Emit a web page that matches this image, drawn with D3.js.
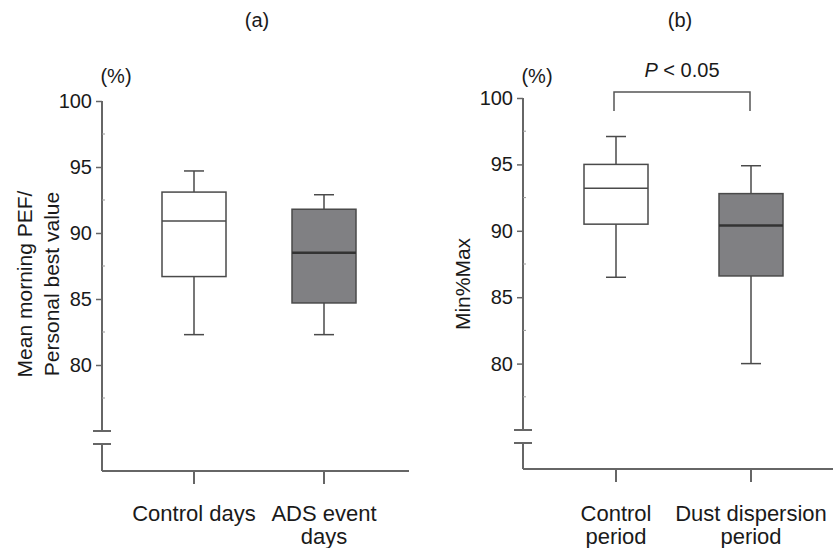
<!DOCTYPE html>
<html>
<head>
<script src="https://d3js.org/d3.v7.min.js"></script>
<style>
  body { margin: 0; background: #fff; }
  svg { display: block; font-family: "Liberation Sans", Arial, sans-serif; }
</style>
</head>
<body>
<div id="chart"></div>
<script>
// ---- data ----
// boxes are [min, q1, median, q3, max]
var categoriesA = ["Control days", "ADS event days"];
var labelLinesA = [["Control days"], ["ADS event", "days"]];
var boxesA = [
  [82.3, 86.7, 90.9, 93.1, 94.7],
  [82.3, 84.7, 88.5, 91.8, 92.9]
];

var categoriesB = ["Control period", "Dust dispersion period"];
var labelLinesB = [["Control", "period"], ["Dust dispersion", "period"]];
var boxesB = [
  [86.5, 90.5, 93.2, 95.0, 97.1],
  [80.0, 86.6, 90.4, 92.8, 94.9]
];

var majorTicks = [100, 95, 90, 85, 80];
var minorTicks = [97.5, 92.5, 87.5, 82.5, 77.5];
var boxFills = ["#ffffff", "#808083"];

var W = 833, H = 548;
var textColor = "#1a1a1a", axisColor = "#666", boxStroke = "#4a4a4a";
var fontStack = "'Liberation Sans', Arial, sans-serif";

var svg = d3.select("#chart").append("svg")
  .attr("width", W).attr("height", H);

function drawPanel(p) {
  var g = svg.append("g");
  var y = d3.scaleLinear().domain([75, 100]).range([p.yBreak, p.yTop]);
  var x = d3.scalePoint().domain(p.cats).range(p.centers);
  var bw = 64;

  // panel title
  g.append("text").attr("x", p.titleX).attr("y", 27)
    .attr("text-anchor", "middle").style("font-size", "20px")
    .attr("fill", textColor).text(p.title);

  // y axis (upper part, above the break)
  var yAxis = g.append("g")
    .attr("transform", "translate(" + p.axisX + ",0)")
    .call(d3.axisLeft(y).tickValues(majorTicks).tickSize(6).tickPadding(4))
    .attr("font-size", 20).attr("font-family", fontStack);
  yAxis.select(".domain").attr("d", "M0," + y(100) + "V" + y(75))
    .attr("stroke", axisColor).attr("stroke-width", 2);
  yAxis.selectAll(".tick line").attr("stroke", axisColor).attr("stroke-width", 1.5);
  yAxis.selectAll(".tick text").attr("fill", textColor);

  // minor ticks inside
  g.selectAll(".minor").data(minorTicks).enter().append("line")
    .attr("x1", p.axisX).attr("x2", p.axisX + 3)
    .attr("y1", function(d) { return y(d); }).attr("y2", function(d) { return y(d); })
    .attr("stroke", "#999").attr("stroke-width", 1);

  // axis break marks
  [p.yBreak, p.yBreak2].forEach(function(yy) {
    g.append("line").attr("x1", p.axisX - 9).attr("x2", p.axisX + 9)
      .attr("y1", yy).attr("y2", yy)
      .attr("stroke", axisColor).attr("stroke-width", 2);
  });
  // lower stub of y axis
  g.append("line").attr("x1", p.axisX).attr("x2", p.axisX)
    .attr("y1", p.yBreak2).attr("y2", p.xAxisY)
    .attr("stroke", axisColor).attr("stroke-width", 2);

  // x axis
  g.append("line").attr("x1", p.axisX).attr("x2", p.xEnd)
    .attr("y1", p.xAxisY).attr("y2", p.xAxisY)
    .attr("stroke", axisColor).attr("stroke-width", 2);
  g.selectAll(".xtick").data(p.cats).enter().append("line")
    .attr("x1", function(d) { return x(d); }).attr("x2", function(d) { return x(d); })
    .attr("y1", p.xAxisY).attr("y2", p.xAxisY + 13)
    .attr("stroke", axisColor).attr("stroke-width", 2);

  // category labels
  p.cats.forEach(function(c, i) {
    var t = g.append("text").attr("text-anchor", "middle")
      .attr("fill", textColor).style("font-size", "22px");
    p.lines[i].forEach(function(line, j) {
      t.append("tspan").attr("x", x(c)).attr("y", p.labelY + j * 23).text(line);
    });
  });

  // (%) unit
  g.append("text").attr("x", p.axisX + 14).attr("y", p.unitY)
    .attr("text-anchor", "middle").attr("fill", textColor)
    .style("font-size", "20px").text("(%)");

  // y axis title
  var yt = g.append("text")
    .attr("transform", "translate(" + p.yTitleX + "," + 284 + ") rotate(-90)")
    .attr("text-anchor", "middle").attr("fill", textColor).style("font-size", "21px");
  p.yTitle.forEach(function(line, j) {
    yt.append("tspan").attr("x", 0).attr("y", j * 27).text(line);
  });

  // boxes
  p.boxes.forEach(function(b, i) {
    var cx = x(p.cats[i]);
    var bg = g.append("g");
    bg.append("line").attr("x1", cx).attr("x2", cx)
      .attr("y1", y(b[4])).attr("y2", y(b[3]))
      .attr("stroke", boxStroke).attr("stroke-width", 1.5);
    bg.append("line").attr("x1", cx).attr("x2", cx)
      .attr("y1", y(b[1])).attr("y2", y(b[0]))
      .attr("stroke", boxStroke).attr("stroke-width", 1.5);
    [b[0], b[4]].forEach(function(v) {
      bg.append("line").attr("x1", cx - 10).attr("x2", cx + 10)
        .attr("y1", y(v)).attr("y2", y(v))
        .attr("stroke", boxStroke).attr("stroke-width", 1.5);
    });
    bg.append("rect").attr("x", cx - bw / 2).attr("width", bw)
      .attr("y", y(b[3])).attr("height", y(b[1]) - y(b[3]))
      .attr("fill", boxFills[i]).attr("stroke", boxStroke).attr("stroke-width", 1.5);
    bg.append("line").attr("x1", cx - bw / 2).attr("x2", cx + bw / 2)
      .attr("y1", y(b[2])).attr("y2", y(b[2]))
      .attr("stroke", i === 1 ? "#333" : boxStroke).attr("stroke-width", i === 1 ? 2.5 : 1.5);
  });

  return { x: x, y: y, g: g };
}

drawPanel({
  title: "(a)", titleX: 257,
  cats: categoriesA, lines: labelLinesA, boxes: boxesA,
  axisX: 102, yTop: 101, yBreak: 431, yBreak2: 444, xAxisY: 471, xEnd: 409,
  centers: [194, 324], labelY: 521, unitY: 83,
  yTitle: ["Mean morning PEF/", "Personal best value"], yTitleX: 32
});

var pb = drawPanel({
  title: "(b)", titleX: 680,
  cats: categoriesB, lines: labelLinesB, boxes: boxesB,
  axisX: 523, yTop: 98, yBreak: 430, yBreak2: 443, xAxisY: 469, xEnd: 833,
  centers: [616, 751], labelY: 521, unitY: 83,
  yTitle: ["Min%Max"], yTitleX: 470
});

// significance bracket
var bx0 = pb.x(categoriesB[0]) - 2, bx1 = pb.x(categoriesB[1]) - 1;
pb.g.append("path")
  .attr("d", "M" + bx0 + ",111V92H" + bx1 + "V111")
  .attr("fill", "none").attr("stroke", "#555").attr("stroke-width", 1.5);
var pt = pb.g.append("text").attr("x", (bx0 + bx1) / 2).attr("y", 77)
  .attr("text-anchor", "middle").attr("fill", textColor).style("font-size", "20px");
pt.append("tspan").style("font-style", "italic").text("P");
pt.append("tspan").text(" < 0.05");
</script>
</body>
</html>
